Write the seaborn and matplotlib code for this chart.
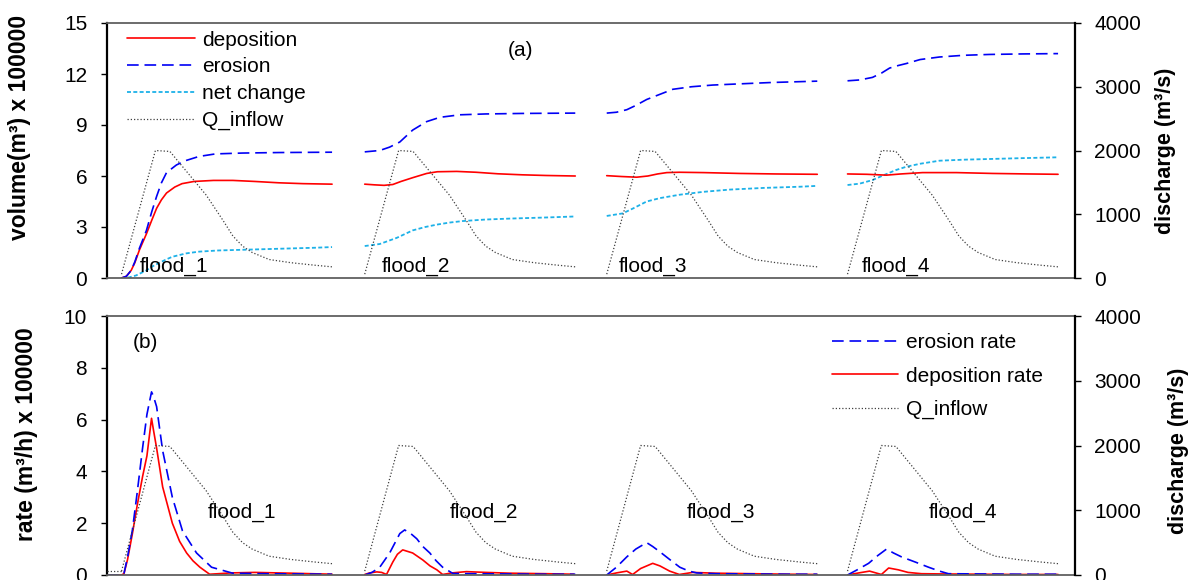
import numpy as np
import matplotlib
matplotlib.use("Agg")
import matplotlib.pyplot as plt
import seaborn as sns
from matplotlib.lines import Line2D

# ---- data (time in hours from the start of each flood) ----
flood_names = ['flood_1', 'flood_2', 'flood_3', 'flood_4']
offsets = [6, 106.5, 206.5, 306]

q_t = [0, 14, 20, 28, 35, 42, 46, 50, 54, 61, 70, 80, 87]
q_v = [60, 2000, 1985, 1620, 1300, 900, 660, 500, 400, 290, 240, 200, 175]
q_lead_t = [-6, 0]
q_lead_v = [60, 60]

# (a) cumulative volumes x 100000 m3
dep_t = [[0, 2, 4, 5.5, 7.4, 10.3, 12.5, 14.5, 16.5, 18.6, 22, 25, 30, 38, 46, 55, 65, 75, 87],
         [0, 4, 8, 11.6, 15, 19.8, 25.6, 30, 38, 46, 55, 65, 75, 87],
         [0, 6, 12.4, 17, 21, 24.8, 30, 40, 55, 70, 87],
         [0, 8, 16.1, 22, 31, 45, 60, 75, 87]]
dep_v = [[0, 0.1, 0.45, 0.9, 1.65, 2.6, 3.4, 4.1, 4.6, 5.0, 5.35, 5.55, 5.68, 5.74, 5.74, 5.68, 5.6, 5.55, 5.52],
         [5.52, 5.48, 5.45, 5.5, 5.68, 5.9, 6.15, 6.25, 6.27, 6.22, 6.13, 6.07, 6.03, 6.0],
         [6.02, 5.97, 5.93, 6.0, 6.12, 6.2, 6.22, 6.2, 6.15, 6.12, 6.1],
         [6.12, 6.1, 6.05, 6.12, 6.2, 6.2, 6.15, 6.12, 6.1]]

ero_t = [[0, 2, 4, 5.5, 7.4, 10.3, 12.5, 14.5, 16.5, 18.6, 22.7, 26.4, 32, 38.8, 50, 65, 87],
         [0, 6.2, 10.3, 14.5, 19.8, 25.6, 31, 39.3, 50, 65, 87],
         [0, 4, 8.3, 12, 16.5, 21.9, 27.3, 35, 43.8, 55, 68, 80, 87],
         [0, 5, 10.3, 14, 17.4, 21, 24.4, 30, 38, 48, 58.7, 72, 87]]
ero_v = [[0, 0.1, 0.45, 0.95, 1.75, 2.8, 3.9, 4.8, 5.6, 6.2, 6.65, 6.9, 7.15, 7.3, 7.35, 7.38, 7.4],
         [7.42, 7.5, 7.7, 8.0, 8.7, 9.2, 9.45, 9.6, 9.65, 9.68, 9.7],
         [9.7, 9.75, 9.9, 10.15, 10.5, 10.8, 11.1, 11.25, 11.35, 11.42, 11.5, 11.55, 11.58],
         [11.6, 11.65, 11.8, 12.05, 12.35, 12.5, 12.62, 12.85, 13.0, 13.1, 13.15, 13.18, 13.2]]

net_t = [[0, 3, 6, 10.3, 13, 15.7, 18.6, 21, 26.8, 32, 40, 50, 60, 70, 80, 87],
         [0, 6.2, 13.2, 19.8, 25, 29.8, 35, 40.5, 50, 61, 75, 87],
         [0, 6.6, 11, 16.5, 22, 30.2, 40, 50.8, 65, 80, 87],
         [0, 5, 10.3, 15, 20, 24.4, 30, 38, 48, 58.7, 72, 87]]
net_v = [[0, 0.03, 0.15, 0.45, 0.7, 0.9, 1.1, 1.25, 1.45, 1.55, 1.62, 1.66, 1.7, 1.74, 1.78, 1.82],
         [1.88, 2.0, 2.36, 2.8, 3.0, 3.14, 3.26, 3.35, 3.44, 3.5, 3.56, 3.62],
         [3.65, 3.8, 4.1, 4.5, 4.7, 4.9, 5.07, 5.2, 5.3, 5.37, 5.42],
         [5.47, 5.55, 5.76, 6.05, 6.35, 6.55, 6.72, 6.9, 6.96, 7.0, 7.05, 7.1]]

# (b) rates x 100000 m3/h
erate_t = [[-6, 0, 1, 2.5, 4.5, 6.5, 8.7, 10.5, 12.4, 13.2, 14.5, 17, 21, 25.2, 31, 37.2, 45.9, 60, 75, 87],
           [0, 3, 6.2, 10.3, 14.5, 16.5, 19, 21.5, 24, 26.9, 29.5, 32.2, 36.4, 45, 60, 75, 87],
           [0, 4, 8.3, 12, 16.5, 19, 21.9, 26, 30.2, 34, 37.2, 45, 60, 75, 87],
           [0, 4, 8.7, 12.5, 16.1, 19, 22.3, 28, 33.5, 38, 41.7, 55, 70, 87]]
erate_v = [[0, 0, 0.05, 0.7, 1.74, 3.2, 4.9, 6.2, 7.07, 6.9, 6.5, 4.8, 3.0, 1.7, 0.85, 0.3, 0.07, 0.05, 0.04, 0.03],
           [0, 0.1, 0.3, 0.85, 1.6, 1.74, 1.6, 1.4, 1.1, 0.85, 0.55, 0.3, 0.06, 0.05, 0.04, 0.03, 0.03],
           [0, 0.3, 0.7, 1.0, 1.25, 1.1, 0.9, 0.6, 0.3, 0.15, 0.08, 0.05, 0.04, 0.03, 0.03],
           [0, 0.2, 0.45, 0.75, 1.0, 0.85, 0.7, 0.5, 0.3, 0.15, 0.05, 0.04, 0.03, 0.03]]

drate_t = [[-6, 0, 1, 2.5, 4.5, 6.5, 8.7, 10.5, 12.4, 13.2, 14.5, 17, 21, 24, 26.9, 29.5, 32.4, 36.4, 40, 45, 55, 70, 87],
           [0, 2, 5, 7, 9, 11.6, 13.5, 15.7, 19.8, 24, 27, 29.8, 32.2, 36, 42, 50, 60, 75, 86.4],
           [0, 4, 8.3, 10.7, 14, 19, 22, 26, 30, 35.5, 45, 60, 75, 87],
           [0, 4, 9.1, 14, 17, 21, 25, 30.6, 40, 55, 70, 87]]
drate_v = [[0, 0, 0.05, 0.6, 1.6, 2.7, 3.8, 4.6, 6.05, 5.6, 4.9, 3.4, 2.0, 1.3, 0.85, 0.55, 0.3, 0.03, 0.05, 0.08, 0.1, 0.07, 0.03],
           [0.02, 0.08, 0.12, 0.1, 0.02, 0.5, 0.8, 0.97, 0.85, 0.58, 0.35, 0.2, 0.02, 0.08, 0.13, 0.1, 0.07, 0.05, 0.03],
           [0, 0.08, 0.15, 0.02, 0.25, 0.45, 0.35, 0.15, 0.02, 0.1, 0.07, 0.05, 0.03, 0.02],
           [0, 0.07, 0.15, 0.02, 0.27, 0.2, 0.1, 0.05, 0.04, 0.03, 0.02, 0.02]]

# ---- style ----
sns.set_theme(style="white")
plt.rcParams['font.family'] = ['Liberation Sans', 'DejaVu Sans']
plt.rcParams['font.size'] = 15
plt.rcParams['text.color'] = 'black'
plt.rcParams['axes.labelcolor'] = 'black'
FS = 15

RED = '#FF0000'
BLUE = '#0000F5'
CYAN = '#1DB1E8'
GREY = '#404040'
ls_dep = dict(color=RED, lw=1.2, linestyle='-')
ls_ero = dict(color=BLUE, lw=1.2, linestyle=(0, (7, 3.5)))
ls_net = dict(color=CYAN, lw=1.3, linestyle=(0, (2.2, 1.3)))
ls_q = dict(color=GREY, lw=0.9, linestyle=(0, (1, 1.6)))

fig = plt.figure(figsize=(11.9, 5.8), dpi=100)
ax_a = fig.add_axes([107 / 1190, 1 - 278 / 580, 968 / 1190, 255 / 580])
ax_b = fig.add_axes([107 / 1190, 1 - 575 / 580, 968 / 1190, 259 / 580])
tw_a = ax_a.twinx()
tw_b = ax_b.twinx()


def line(ax, t, v, off, style):
    sns.lineplot(x=np.array(t) + off, y=v, ax=ax, legend=False, **style)


for k, off in enumerate(offsets):
    line(ax_a, net_t[k], net_v[k], off, ls_net)
    line(ax_a, dep_t[k], dep_v[k], off, ls_dep)
    line(ax_a, ero_t[k], ero_v[k], off, ls_ero)
    line(tw_a, q_t, q_v, off, ls_q)

    line(ax_b, drate_t[k], drate_v[k], off, ls_dep)
    line(ax_b, erate_t[k], erate_v[k], off, ls_ero)
    line(tw_b, q_t, q_v, off, ls_q)
line(tw_b, q_lead_t, q_lead_v, offsets[0], ls_q)


def style_axes(ax, tw, ymax, ystep, ylabel, lab_xy, rlab_xy):
    ax.set_xlim(0, 400)
    ax.set_ylim(0, ymax)
    ticks = np.arange(0, ymax + 0.01, ystep)
    ax.set_yticks(ticks)
    ax.set_yticklabels([f"{v:g}" for v in ticks])
    ax.set_xticks([])
    tw.set_ylim(0, 4000)
    tw.set_yticks([0, 1000, 2000, 3000, 4000])
    tw.set_xticks([])
    for a in (ax, tw):
        a.set_xlabel('')
        a.grid(False)
    ax.spines['left'].set_color('black')
    ax.spines['left'].set_linewidth(1.6)
    for s in ('top', 'bottom'):
        ax.spines[s].set_color('#606060')
        ax.spines[s].set_linewidth(1.3)
    ax.spines['right'].set_visible(False)
    for s in ('left', 'top', 'bottom'):
        tw.spines[s].set_visible(False)
    tw.spines['right'].set_color('black')
    tw.spines['right'].set_linewidth(1.6)
    ax.tick_params(axis='y', which='major', left=True, direction='out', length=4.5,
                   width=1, color='black', pad=9.8, labelsize=FS, labelcolor='black')
    tw.tick_params(axis='y', which='major', right=True, direction='out', length=4.5,
                   width=1, color='black', pad=9.2, labelsize=FS, labelcolor='black')
    ax.set_ylabel(ylabel, fontsize=16.5, fontweight='bold', color='black')
    ax.yaxis.set_label_coords(*lab_xy)
    tw.set_ylabel('discharge (m³/s)', fontsize=15.5, fontweight='bold', color='black')
    tw.yaxis.set_label_coords(*rlab_xy)


style_axes(ax_a, tw_a, 15, 3, 'volume(m³) x 100000', (-0.079, 0.59), (1.0826, 0.5))
style_axes(ax_b, tw_b, 10, 2, 'rate (m³/h) x 100000', (-0.071, 0.545), (1.096, 0.48))

# annotations
lab_a_x = [13.6, 113.6, 211.6, 312]
lab_b_x = [41.7, 141.7, 239.7, 339.7]
for k, name in enumerate(flood_names):
    ax_a.text(lab_a_x[k], 0.7, name, fontsize=FS, va='center', ha='left', color='black')
    ax_b.text(lab_b_x[k], 2.43, name, fontsize=FS, va='center', ha='left', color='black')
ax_a.text(170.7, 13.4, '(a)', fontsize=FS, ha='center', va='center', color='black')
ax_b.text(15.7, 8.96, '(b)', fontsize=FS, ha='center', va='center', color='black')

# legends
h_a = [Line2D([], [], **ls_dep), Line2D([], [], **ls_ero),
       Line2D([], [], **ls_net), Line2D([], [], **ls_q)]
fig.legend(h_a, ['deposition', 'erosion', 'net change', 'Q_inflow'],
           loc='upper left', bbox_to_anchor=(127 / 1190, 1 - 30.5 / 580), frameon=False,
           borderpad=0, borderaxespad=0, handlelength=3.27, handletextpad=0.34,
           labelspacing=0.375, fontsize=FS, labelcolor='black')
h_b = [Line2D([], [], **ls_ero), Line2D([], [], **ls_dep), Line2D([], [], **ls_q)]
fig.legend(h_b, ['erosion rate', 'deposition rate', 'Q_inflow'],
           loc='upper left', bbox_to_anchor=(832 / 1190, 1 - 333.5 / 580), frameon=False,
           borderpad=0, borderaxespad=0, handlelength=3.17, handletextpad=0.38,
           labelspacing=0.68, fontsize=FS, labelcolor='black')

fig.savefig('out.png', dpi=100)
